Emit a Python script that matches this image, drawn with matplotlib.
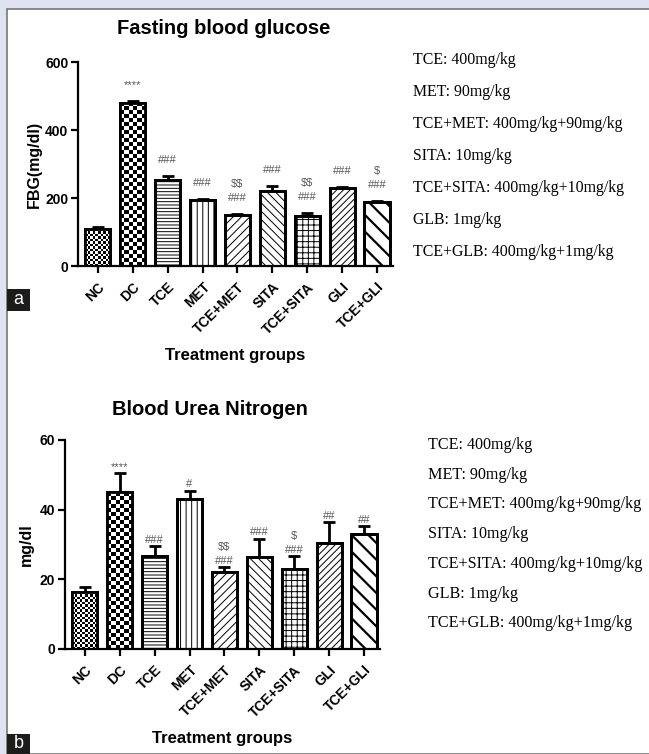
import numpy as np
import matplotlib
matplotlib.use('Agg')
import matplotlib.pyplot as plt
from matplotlib.patches import Rectangle

groups = ['NC', 'DC', 'TCE', 'MET', 'TCE+MET', 'SITA', 'TCE+SITA', 'GLI', 'TCE+GLI']

fbg_mean = [108, 480, 253, 193, 150, 222, 148, 228, 188]
fbg_err = [6, 5, 12, 3, 3, 12, 7, 5, 3]
fbg_marks = [[], ['****'], ['###'], ['###'], ['###', '$$'], ['###'], ['###', '$$'], ['###'], ['###', '$']]

bun_mean = [16.3, 45.0, 26.7, 43.2, 22.2, 26.4, 23.0, 30.5, 33.0]
bun_err = [1.5, 5.5, 2.8, 2.3, 1.4, 5.3, 3.6, 6.0, 2.2]
bun_marks = [[], ['****'], ['###'], ['#'], ['###', '$$'], ['###'], ['###', '$'], ['##'], ['##']]

doses = ['TCE: 400mg/kg', 'MET: 90mg/kg', 'TCE+MET: 400mg/kg+90mg/kg', 'SITA: 10mg/kg',
         'TCE+SITA: 400mg/kg+10mg/kg', 'GLB: 1mg/kg', 'TCE+GLB: 400mg/kg+1mg/kg']

# 'chkN' means a checkerboard fill with N px cells
hatches = ['chk2.5', 'chk4', '-----', '|||', '////', '\\\\\\\\', '+++', '/////', '\\\\']

W, H = 649, 754
plt.rcParams['hatch.linewidth'] = 0.7
plt.rcParams['font.family'] = ['Liberation Sans', 'DejaVu Sans']

fig = plt.figure(figsize=(W / 100, H / 100), dpi=100)
fig.patch.set_facecolor('#dfe2f0')
fig.patches.append(Rectangle((7 / W, 0), 1, 1 - 9 / H, transform=fig.transFigure,
                             facecolor='white', edgecolor='#777777', linewidth=1.2, zorder=-5))


def draw_panel(ax, means, errs, marks, ylim, yticks, ylabel, title, title_x, title_y, gap):
    ax.patch.set_alpha(0)
    x = np.arange(len(groups))
    bars = ax.bar(x, means, width=0.72, color='white', edgecolor='black', linewidth=2.0, zorder=2)
    ax.errorbar(x, means, yerr=[np.zeros(len(errs)), errs], fmt='none', ecolor='black',
                elinewidth=2.0, capsize=4.5, capthick=2.0, zorder=1)
    ax.set_xlim(-0.57, 8.46)
    ax.set_ylim(*ylim)
    pos = ax.get_position()
    ppx = pos.width * W / (ax.get_xlim()[1] - ax.get_xlim()[0])
    ppy = pos.height * H / (ylim[1] - ylim[0])
    for b, h in zip(bars, hatches):
        if h.startswith('chk'):
            cell = float(h[3:])
            bw, bh = b.get_width(), b.get_height()
            ncol = max(1, int(round(bw * ppx / cell)))
            nrow = max(1, int(round(bh * ppy / cell)))
            img = np.add.outer(np.arange(nrow), np.arange(ncol)) % 2
            im = ax.imshow(img, cmap='gray', extent=(b.get_x(), b.get_x() + bw, 0, bh),
                           aspect='auto', interpolation='nearest', zorder=2.5)
            im.set_clip_path(b)
        else:
            b.set_hatch(h)
            if h == '\\\\' and hasattr(b, 'set_hatch_linewidth'):
                b.set_hatch_linewidth(1.6)
    ax.bar(x, means, width=0.72, fill=False, edgecolor='black', linewidth=2.0, zorder=3)
    ax.set_xlim(-0.57, 8.46)
    ax.set_ylim(*ylim)
    for xi, m, e, mk in zip(x, means, errs, marks):
        for k, s in enumerate(mk):
            ax.annotate(s.replace('$', r'\$'), (xi, m + e), xytext=(0, gap + 10 * k),
                        textcoords='offset points', ha='center', va='center',
                        fontsize=8, color='#555555')
    ax.spines['top'].set_visible(False)
    ax.spines['right'].set_visible(False)
    for s in ('left', 'bottom'):
        ax.spines[s].set_linewidth(1.6)
    ax.set_yticks(yticks)
    ax.set_xticks(x)
    ax.set_xticklabels(groups, rotation=45, ha='right', va='top', rotation_mode='anchor',
                       fontsize=10, fontweight='bold')
    ax.tick_params(axis='both', width=1.6, length=5, direction='out')
    ax.tick_params(axis='x', pad=5)
    ax.tick_params(axis='y', labelsize=10, pad=2)
    for t in ax.get_yticklabels():
        t.set_fontweight('bold')
    ax.set_ylabel(ylabel, fontsize=11.5, fontweight='bold')
    ax.set_xlabel('Treatment groups', fontsize=12, fontweight='bold', labelpad=8)
    fig.text(title_x, title_y, title, fontsize=14.5, fontweight='bold', ha='center', va='center')


ax1 = fig.add_axes([78 / W, 1 - 266 / H, 315 / W, 204 / H])
draw_panel(ax1, fbg_mean, fbg_err, fbg_marks, (0, 600), [0, 200, 400, 600], 'FBG(mg/dl)',
           'Fasting blood glucose', 224 / W, 1 - 29 / H, 11.5)
ax1.yaxis.set_label_coords(-0.115, 0.5)

ax2 = fig.add_axes([65 / W, 1 - 649 / H, 315 / W, 209 / H])
draw_panel(ax2, bun_mean, bun_err, bun_marks, (0, 60), [0, 20, 40, 60], 'mg/dl',
           'Blood Urea Nitrogen', 210 / W, 1 - 410 / H, 4.5)
ax2.yaxis.set_label_coords(-0.10, 0.5)

for k, s in enumerate(doses):
    fig.text(413 / W, 1 - (60 + 32 * k) / H, s, fontsize=11.4, family='Liberation Serif',
             ha='left', va='center')
    fig.text(428 / W, 1 - (445 + 29.7 * k) / H, s, fontsize=11.6, family='Liberation Serif',
             ha='left', va='center')

# panel letters
for letter, y0, y1 in (('a', 289, 311), ('b', 734, 754)):
    fig.patches.append(Rectangle((7 / W, 1 - y1 / H), 23 / W, (y1 - y0) / H,
                                 transform=fig.transFigure, facecolor='#1c1c1c', zorder=5))
    fig.text(18.5 / W, 1 - (y0 + y1) / 2 / H, letter, color='white', fontsize=13,
             ha='center', va='center', zorder=6)

fig.savefig('out.png', dpi=100)
